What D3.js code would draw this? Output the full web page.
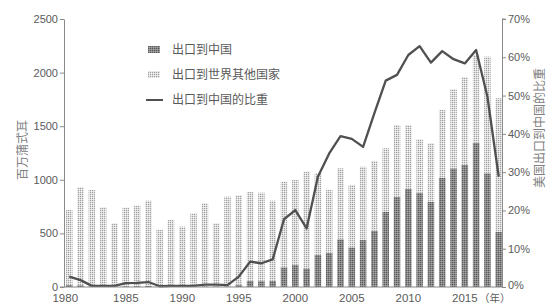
<!DOCTYPE html>
<html><head><meta charset="utf-8">
<script src="https://cdn.jsdelivr.net/npm/d3@7"></script>
<style>
html,body{margin:0;padding:0;background:#fff;}
svg{display:block;}
</style>
</head><body>
<svg id="c" width="554" height="306"></svg>
<script>
const years = [1980,1981,1982,1983,1984,1985,1986,1987,1988,1989,1990,1991,1992,1993,1994,1995,1996,1997,1998,1999,2000,2001,2002,2003,2004,2005,2006,2007,2008,2009,2010,2011,2012,2013,2014,2015,2016,2017,2018];
// 出口到中国 (百万蒲式耳)
const chinaExports = [19,17,3,2,2,7,8,10,1,2,2,2,5,4,4,23,58,55,58,184,205,174,299,320,445,370,438,525,703,843,917,880,796,1020,1107,1138,1346,1061,516];
// 出口到世界其他国家 (百万蒲式耳)
const otherExports = [699,913,902,741,592,733,751,795,531,623,561,686,776,590,839,832,828,825,747,798,793,902,762,585,662,582,684,651,591,668,594,498,545,631,740,819,819,1088,1245];
// 出口到中国的比重 (%)
const chinaShare = [2.7,1.8,0.3,0.3,0.3,1.0,1.1,1.3,0.2,0.3,0.3,0.3,0.6,0.6,0.5,2.7,6.6,6.2,7.2,17.7,20.1,15.3,28.8,34.9,39.4,38.7,36.6,45.4,53.9,55.4,60.6,62.9,58.6,61.6,59.5,58.4,61.9,49.7,28.8];
const leftTicks = [0,500,1000,1500,2000,2500];
const rightTicks = [0,10,20,30,40,50,60,70];
const xTickYears = [1980,1985,1990,1995,2000,2005,2010,2015];
const legendLabels = ["出口到中国","出口到世界其他国家","出口到中国的比重"];
const leftTitle = "百万蒲式耳";
const rightTitle = "美国出口到中国的比重";
const yearUnit = "（年）";

const svg = d3.select("#c");
const defs = svg.append("defs");
const pl = defs.append("pattern").attr("id","light").attr("patternUnits","userSpaceOnUse").attr("width",2).attr("height",2);
pl.append("rect").attr("width",2).attr("height",2).attr("fill","#dedede");
pl.append("rect").attr("width",1).attr("height",1).attr("fill","#a0a0a0");
pl.append("rect").attr("x",1).attr("y",1).attr("width",1).attr("height",1).attr("fill","#f2f2f2");
const pd = defs.append("pattern").attr("id","dark").attr("patternUnits","userSpaceOnUse").attr("width",2).attr("height",2);
pd.append("rect").attr("width",2).attr("height",2).attr("fill","#8a8a8a");
pd.append("rect").attr("width",1).attr("height",1).attr("fill","#5a5a5a");
pd.append("rect").attr("x",1).attr("y",1).attr("width",1).attr("height",1).attr("fill","#a4a4a4");

const x = d3.scaleBand().domain(years).range([66,502]).paddingInner(0.42).paddingOuter(0);
const yL = d3.scaleLinear().domain([0,2500]).range([287,19]);
const yR = d3.scaleLinear().domain([0,70]).range([287,19]);

const rows = years.map((yr,i)=>({yr, china:chinaExports[i], other:otherExports[i], share:chinaShare[i]}));
const stack = d3.stack().keys(["china","other"])(rows);

const g = svg.append("g");
g.selectAll("g.s").data(stack).join("g").attr("class","s")
  .attr("fill",(d,i)=> i===0 ? "url(#dark)" : "url(#light)")
  .selectAll("rect").data(d=>d).join("rect")
  .attr("x",d=>x(d.data.yr)).attr("width",x.bandwidth())
  .attr("y",d=>yL(d[1])).attr("height",d=>yL(d[0])-yL(d[1]));

// line
const line = d3.line().x(d=>x(d.yr)+x.bandwidth()/2).y(d=>yR(d.share));
svg.append("path").datum(rows).attr("d",line).attr("fill","none")
  .attr("stroke","#505050").attr("stroke-width",2.3).attr("stroke-linejoin","round");

const axisColor = "#8a8a8a";
const textColor = "#5a5a5a";
const font = "Liberation Sans, Arial, sans-serif";

// left axis
const la = svg.append("g").attr("transform","translate(64,0)")
  .call(d3.axisLeft(yL).tickValues(leftTicks).tickSize(4).tickPadding(2).tickSizeOuter(0).tickFormat(d3.format("d")));
// right axis
const ra = svg.append("g").attr("transform","translate(502,0)")
  .call(d3.axisRight(yR).tickValues(rightTicks).tickSize(4).tickPadding(2).tickSizeOuter(0).tickFormat(d=>d+"%"));
[la,ra].forEach(a=>{
  a.selectAll("path,line").attr("stroke",axisColor);
  a.selectAll("text").attr("fill",textColor).style("font-family",font).style("font-size","11px");
});
ra.select(".tick text").attr("dy","0.1em");
ra.append("line").attr("x1",0).attr("x2",3).attr("y1",yR(70)).attr("y2",yR(70)).attr("stroke",axisColor);

// x baseline
svg.append("line").attr("x1",60).attr("x2",502).attr("y1",yL(0)).attr("y2",yL(0)).attr("stroke",axisColor).attr("stroke-width",1);

// x labels
svg.append("g").selectAll("text").data(xTickYears).join("text")
  .attr("x",d=> x(d)+x.bandwidth()/2 - (d===1980?4:0)).attr("y",302)
  .attr("text-anchor","middle").attr("fill",textColor)
  .style("font-family",font).style("font-size","11.5px").text(d=>d);
svg.append("text").attr("x",479).attr("y",302).attr("text-anchor","start")
  .attr("fill",textColor).style("font-family","Noto Sans CJK SC").style("font-size","10.5px").text(yearUnit);

// axis titles
svg.append("text").attr("transform","translate(23,150) rotate(-90)").attr("text-anchor","middle").attr("dy","0.35em")
  .attr("fill","#808080").style("font-family","Noto Sans CJK SC").style("font-size","12px").text(leftTitle);
svg.append("text").attr("transform","translate(540,128) rotate(-90)").attr("text-anchor","middle").attr("dy","0.35em")
  .attr("fill","#808080").style("font-family","Noto Sans CJK SC").style("font-size","12px").text(rightTitle);

// legend
const lg = svg.append("g");
const ly = [50,75,100];
lg.append("rect").attr("x",148).attr("y",ly[0]-4).attr("width",12).attr("height",7).attr("fill","url(#dark)");
lg.append("rect").attr("x",148).attr("y",ly[1]-4).attr("width",12).attr("height",7).attr("fill","url(#light)");
lg.append("line").attr("x1",146).attr("x2",163).attr("y1",ly[2]).attr("y2",ly[2]).attr("stroke","#505050").attr("stroke-width",2);
lg.selectAll("text").data(legendLabels).join("text")
  .attr("x",172).attr("y",(d,i)=>ly[i]).attr("dy","0.35em")
  .attr("fill",textColor).style("font-family","Noto Sans CJK SC").style("font-size","12px").text(d=>d);
</script>
</body></html>
